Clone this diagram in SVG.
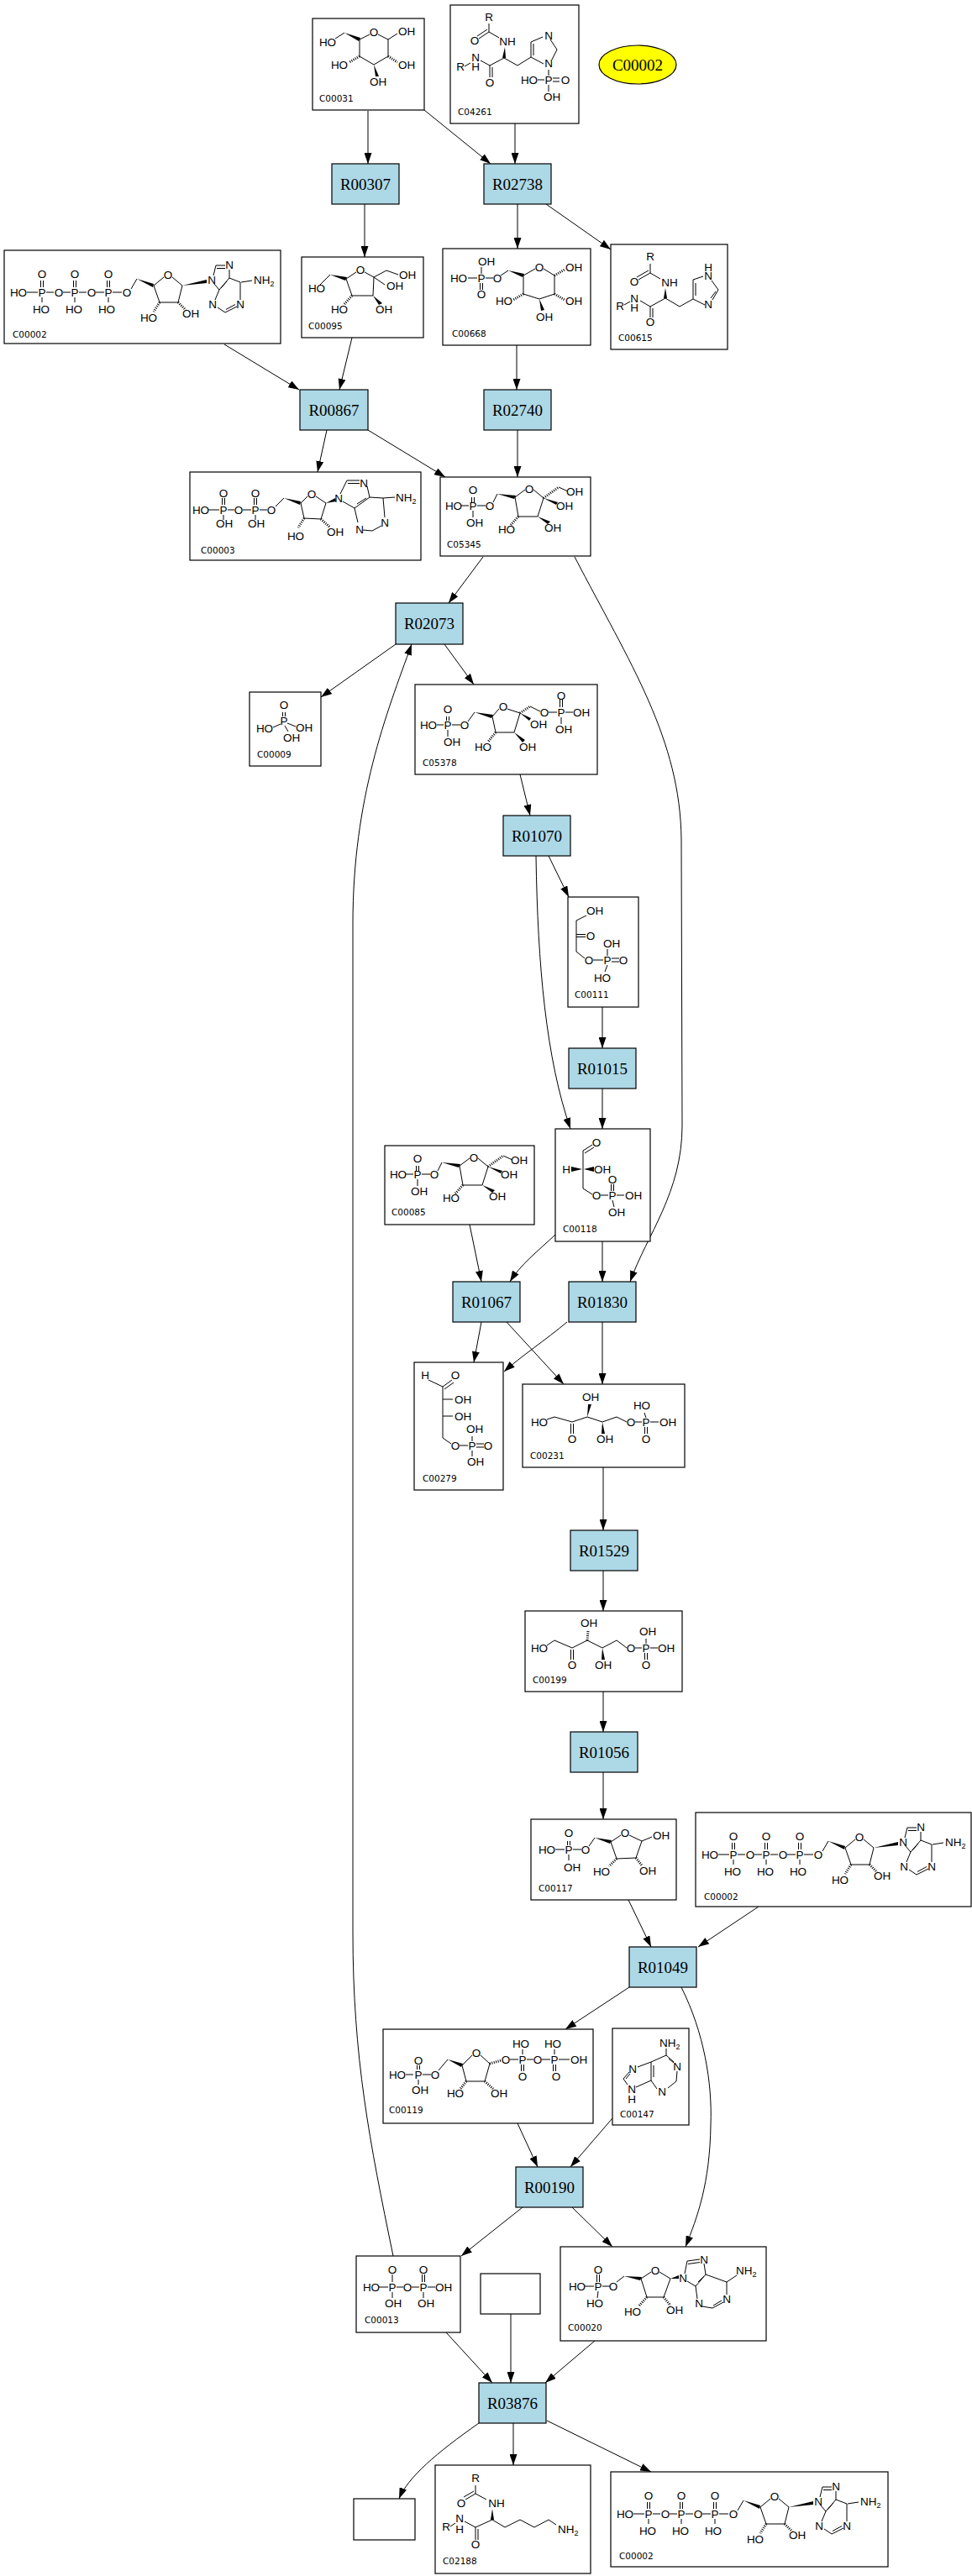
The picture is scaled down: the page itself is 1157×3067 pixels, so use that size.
<svg xmlns="http://www.w3.org/2000/svg" width="1157" height="3067" viewBox="0 0 1157 3067">
<style>
.cb{fill:#fff;stroke:#000;stroke-width:1.2}
.rb{fill:#add8e6;stroke:#000;stroke-width:1.2}
.rt{font-family:"Liberation Serif",serif;font-size:19px;text-anchor:middle}
.a{font-family:"Liberation Sans",Arial,sans-serif;font-size:13.5px;text-anchor:middle}
.s{text-anchor:start}
.id{font-family:"DejaVu Sans",sans-serif;font-size:10.5px}
.b{stroke:#000;stroke-width:1;fill:none}
.h{stroke:#000;stroke-width:3;stroke-dasharray:1 1.5;fill:none}
.e{stroke:#000;stroke-width:1;fill:none;marker-end:url(#ah)}
</style>
<defs>
<marker id="ah" viewBox="0 0 13 9" refX="13" refY="4.5" markerWidth="13" markerHeight="9" markerUnits="userSpaceOnUse" orient="auto"><path d="M0,0 L13,4.5 L0,9 z" fill="#000"/></marker>
</defs>
<rect width="1157" height="3067" fill="#fff"/>

<g id="edges">
<path class="e" d="M438,132 L438,195"/>
<path class="e" d="M505,131 L584,195"/>
<path class="e" d="M613,147 L613,195"/>
<path class="e" d="M434,243 L434,306"/>
<path class="e" d="M616,243 L616,296"/>
<path class="e" d="M650,243 L727,297"/>
<path class="e" d="M267,410 L356,464"/>
<path class="e" d="M419,402 L404,464"/>
<path class="e" d="M615,411 L615,464"/>
<path class="e" d="M389,512 L378,562"/>
<path class="e" d="M438,512 L530,568"/>
<path class="e" d="M616,512 L616,568"/>
<path class="e" d="M575,663 L534,718"/>
<path class="e" d="M684,663 C750,790 810,880 811,1000 L812,1340 C812,1420 770,1470 750,1526"/>
<path class="e" d="M471,767 L382,830"/>
<path class="e" d="M529,767 L564,815"/>
<path class="e" d="M468,2686 C440,2550 420,2450 420,2300 L420,1100 C420,950 460,850 490,767"/>
<path class="e" d="M619,922 L631,971"/>
<path class="e" d="M653,1019 L677,1068"/>
<path class="e" d="M638,1019 C640,1150 650,1260 679,1344"/>
<path class="e" d="M717,1199 L717,1248"/>
<path class="e" d="M717,1296 L717,1344"/>
<path class="e" d="M559,1458 L573,1526"/>
<path class="e" d="M661,1470 C640,1490 620,1505 607,1526"/>
<path class="e" d="M717,1478 L717,1526"/>
<path class="e" d="M573,1574 L564,1622"/>
<path class="e" d="M603,1574 L671,1648"/>
<path class="e" d="M675,1574 C650,1595 620,1615 600,1633"/>
<path class="e" d="M717,1574 L717,1648"/>
<path class="e" d="M718,1747 L718,1822"/>
<path class="e" d="M718,1870 L718,1918"/>
<path class="e" d="M718,2014 L718,2062"/>
<path class="e" d="M718,2110 L718,2166"/>
<path class="e" d="M748,2262 L775,2318"/>
<path class="e" d="M903,2270 L831,2318"/>
<path class="e" d="M749,2366 L673,2416"/>
<path class="e" d="M811,2366 C838,2420 848,2480 846,2530 C845,2600 830,2640 816,2675"/>
<path class="e" d="M616,2528 L640,2580"/>
<path class="e" d="M729,2522 L679,2580"/>
<path class="e" d="M622,2628 L549,2686"/>
<path class="e" d="M681,2628 L729,2675"/>
<path class="e" d="M531,2777 L586,2837"/>
<path class="e" d="M608,2755 L608,2837"/>
<path class="e" d="M708,2787 L649,2837"/>
<path class="e" d="M570,2885 C520,2920 485,2950 475,2975"/>
<path class="e" d="M611,2885 L611,2935"/>
<path class="e" d="M651,2882 L775,2943"/>
</g>

<g id="R00307"><rect class="rb" x="395" y="195" width="80" height="48"/><text class="rt" x="435" y="225.5">R00307</text></g>
<g id="R02738"><rect class="rb" x="576" y="195" width="80" height="48"/><text class="rt" x="616" y="225.5">R02738</text></g>
<g id="R00867"><rect class="rb" x="357" y="464" width="81" height="48"/><text class="rt" x="397.5" y="494.5">R00867</text></g>
<g id="R02740"><rect class="rb" x="576" y="464" width="80" height="48"/><text class="rt" x="616" y="494.5">R02740</text></g>
<g id="R02073"><rect class="rb" x="471" y="718" width="80" height="49"/><text class="rt" x="511" y="749">R02073</text></g>
<g id="R01070"><rect class="rb" x="599" y="971" width="80" height="48"/><text class="rt" x="639" y="1001.5">R01070</text></g>
<g id="R01015"><rect class="rb" x="677" y="1248" width="80" height="48"/><text class="rt" x="717" y="1278.5">R01015</text></g>
<g id="R01067"><rect class="rb" x="539" y="1526" width="80" height="48"/><text class="rt" x="579" y="1556.5">R01067</text></g>
<g id="R01830"><rect class="rb" x="677" y="1526" width="80" height="48"/><text class="rt" x="717" y="1556.5">R01830</text></g>
<g id="R01529"><rect class="rb" x="679" y="1822" width="80" height="48"/><text class="rt" x="719" y="1852.5">R01529</text></g>
<g id="R01056"><rect class="rb" x="679" y="2062" width="80" height="48"/><text class="rt" x="719" y="2092.5">R01056</text></g>
<g id="R01049"><rect class="rb" x="749" y="2318" width="80" height="48"/><text class="rt" x="789" y="2348.5">R01049</text></g>
<g id="R00190"><rect class="rb" x="614" y="2580" width="80" height="48"/><text class="rt" x="654" y="2610.5">R00190</text></g>
<g id="R03876"><rect class="rb" x="570" y="2837" width="80" height="48"/><text class="rt" x="610" y="2867.5">R03876</text></g>

<g id="C00002_top"><ellipse cx="759" cy="77" rx="46" ry="23" fill="#ffff00" stroke="#000" stroke-width="1.2"/><text class="rt" x="759" y="83.5">C00002</text></g>

<g id="empty1"><rect class="cb" x="572" y="2707" width="71" height="48"/></g>
<g id="empty2"><rect class="cb" x="421" y="2975" width="73" height="49"/></g>

<g id="C00031">
<rect class="cb" x="372" y="22" width="133" height="109"/>
<path class="b" d="M399,46 L410,39 M428,47 L440,41 M450,41 L462,47 L462,67 L445,77 L428,67 L428,47 M462,47 L473,40"/>
<polygon points="410,39 429,45 427,49"/>
<polygon points="445,77 447,91 451,91"/>
<path class="h" d="M462,67 L473,74 M428,67 L416,74"/>
<text class="a" x="390" y="55">HO</text><text class="a" x="445" y="43">O</text><text class="a" x="484" y="42">OH</text>
<text class="a" x="404" y="82">HO</text><text class="a" x="484" y="82">OH</text><text class="a" x="450" y="102">OH</text>
<text class="id" x="380" y="121">C00031</text>
</g>

<g id="C04261">
<rect class="cb" x="536" y="6" width="153" height="141"/>
<g transform="translate(-3,0)">
<path class="b" d="M585,28 L585,38 L573,46 M583,35 L571,43 M585,38 L597,45 M603,69 L586,78 L586,92 M589,80 L589,92 M586,78 L575,72 M556,79 L563,75 M603,69 L619,78 L635,68 L635,50 L649,44 M658,47 L666,59 L660,71 M650,76 L635,68 M638,52 L638,66 M656,83 L656,90 M643,95 L651,95 M661,93 L669,93 M661,97 L669,97 M656,101 L656,109"/>
<polygon points="604,56 601,69 605,69"/>
<text class="a" x="585" y="25">R</text><text class="a" x="568" y="53">O</text><text class="a" x="607" y="54">NH</text>
<text class="a" x="656" y="47">N</text><text class="a" x="656" y="80">N</text>
<text class="a" x="569" y="73">N</text><text class="a" x="569" y="84">H</text><text class="a" x="551" y="84">R</text>
<text class="a" x="586" y="103">O</text><text class="a" x="633" y="100">HO</text><text class="a" x="656" y="100">P</text><text class="a" x="676" y="100">O</text>
<text class="a" x="660" y="120">OH</text>
</g>
<text class="id" x="545" y="137">C04261</text>
</g>

<g id="C00002_a">
<rect class="cb" x="5" y="298" width="329" height="111"/>
<g transform="translate(5,298)">
<path class="b" d="M43.5,36 V44 M46.5,36 V44 M82.5,36 V44 M85.5,36 V44 M122.5,36 V44 M125.5,36 V44 M27,50 H40 M50,50 H59 M70,50 H79 M89,50 H98 M109,50 H119 M129,50 H140 M45,56 V62 M84,56 V62 M124,56 V62 M151,46 L158,34 M178,42 L190,32 M200,32 L212,42 L207,62 L185,62 L178,42 M249,30 L252,18 H263 M253,21.5 H263 M268,23 V33 L256,47 L250,40 M256,47 L251,59 M254,68 L263,74 L277,67 M281,59 V38 L268,33 M282,38 L295,36 M265,37 L258,45 M264,70.5 L275,64.5"/>
<polygon points="158,34 178,40 177,44"/><polygon points="212,42 241,35 241,39"/>
<path class="h" d="M185,62 L178,73 M207,62 L216,71"/>
<text class="a" x="45" y="33">O</text><text class="a" x="84" y="33">O</text><text class="a" x="124" y="33">O</text>
<text class="a" x="17" y="55">HO</text><text class="a" x="45" y="55">P</text><text class="a" x="65" y="55">O</text><text class="a" x="84" y="55">P</text><text class="a" x="104" y="55">O</text><text class="a" x="124" y="55">P</text><text class="a" x="146" y="55">O</text>
<text class="a" x="44" y="75">HO</text><text class="a" x="83" y="75">HO</text><text class="a" x="122" y="75">HO</text>
<text class="a" x="195" y="34">O</text><text class="a" x="172" y="85">HO</text><text class="a" x="222" y="80">OH</text>
<text class="a" x="247" y="40">N</text><text class="a" x="268" y="22">N</text><text class="a" x="248" y="69">N</text><text class="a" x="281" y="69">N</text>
<text class="a s" x="297" y="40">NH<tspan font-size="9" dy="3">2</tspan></text>
<text class="id" x="10" y="104">C00002</text>
</g>
</g>

<g id="C00095">
<rect class="cb" x="359" y="306" width="145" height="96"/>
<path class="b" d="M381,339 L393,327 M412,332 L424,324 M434,324 L445,330 L444,352 L419,352 L412,332 M445,330 L460,322 L474,327 M445,330 L458,339"/>
<polygon points="393,327 413,330 411,334"/><polygon points="444,352 451,363 455,361"/>
<path class="h" d="M419,352 L410,362"/>
<text class="a" x="377" y="348">HO</text><text class="a" x="429" y="326">O</text><text class="a" x="485" y="332">OH</text>
<text class="a" x="470" y="345">OH</text><text class="a" x="457" y="373">OH</text><text class="a" x="404" y="373">HO</text>
<text class="id" x="367" y="392">C00095</text>
</g>

<g id="C00668">
<rect class="cb" x="527" y="296" width="176" height="115"/>
<path class="b" d="M573,318 V326 M557,331 H568 M578,331 H587 M571.5,337 V345 M574.5,337 V345 M596,328 L605,322 M623,328 L637,320 M647,320 L660,328 L660,350 L642,356 L623,350 L623,328"/>
<polygon points="605,322 624,326 622,330"/><polygon points="642,356 644,370 648,369"/>
<path class="h" d="M660,328 L672,321 M660,350 L672,357 M623,350 L611,357"/>
<text class="a" x="579" y="316">OH</text><text class="a" x="546" y="336">HO</text><text class="a" x="573" y="336">P</text><text class="a" x="592" y="336">O</text>
<text class="a" x="573" y="355">O</text><text class="a" x="642" y="323">O</text><text class="a" x="683" y="323">OH</text>
<text class="a" x="600" y="363">HO</text><text class="a" x="683" y="363">OH</text><text class="a" x="648" y="382">OH</text>
<text class="id" x="538" y="401">C00668</text>
</g>

<g id="C00615">
<rect class="cb" x="727" y="291" width="139" height="125"/>
<path class="b" d="M774,314 L774,325 L760,333 M772,322 L758,330 M774,325 L786,332 M792,355 L774,365 L774,378 M777,367 L777,378 M774,365 L762,358 M743,363 L750,359 M792,355 L809,365 L825,356 L825,333 L837,329 M847,334 L855,345 L848,357 M839,363 L825,356 M828,352 L828,337 M852,347 L846,355"/>
<polygon points="792,343 790,355 794,355"/>
<text class="a" x="774" y="310">R</text><text class="a" x="755" y="340">O</text><text class="a" x="797" y="341">NH</text>
<text class="a" x="755" y="360">N</text><text class="a" x="755" y="371">H</text><text class="a" x="738" y="369">R</text>
<text class="a" x="774" y="388">O</text><text class="a" x="843" y="323">H</text><text class="a" x="843" y="333">N</text><text class="a" x="843" y="367">N</text>
<text class="id" x="736" y="406">C00615</text>
</g>

<g id="C00003">
<rect class="cb" x="226" y="562" width="275" height="105"/>
<path class="b" d="M264.5,593 V601 M267.5,593 V601 M302.5,593 V601 M305.5,593 V601 M248,607 H261 M271,607 H279 M289,607 H299 M309,607 H318 M266,613 V619 M304,613 V619 M328,603 L338,593 M358,599 L366,591 M376,591 L388,599 L382,618 L362,617 L358,599 M405,588 L413,572 H428 M414,575.5 H428 M437,579 L440,592 L422,605 L408,597 M422,605 L426,622 M432,631 L443,632 L454,626 M458,616 L456,593 L440,592 M456,593 L470,592 M425,600 L436,593"/>
<polygon points="338,593 358,597 357,601"/><polygon points="388,599 399,593 400,597"/>
<path class="h" d="M362,617 L355,628 M382,618 L393,628"/>
<text class="a" x="266" y="592">O</text><text class="a" x="304" y="592">O</text>
<text class="a" x="239" y="612">HO</text><text class="a" x="266" y="612">P</text><text class="a" x="284" y="612">O</text><text class="a" x="304" y="612">P</text><text class="a" x="323" y="612">O</text>
<text class="a" x="267" y="628">OH</text><text class="a" x="305" y="628">OH</text>
<text class="a" x="371" y="593">O</text><text class="a" x="352" y="643">HO</text><text class="a" x="399" y="638">OH</text>
<text class="a" x="403" y="598">N</text><text class="a" x="433" y="580">N</text><text class="a" x="428" y="635">N</text><text class="a" x="458" y="627">N</text>
<text class="a s" x="471" y="597">NH<tspan font-size="9" dy="3">2</tspan></text>
<text class="id" x="239" y="659">C00003</text>
</g>

<g id="C05345">
<rect class="cb" x="524" y="568" width="179" height="94"/>
<path class="b" d="M561.5,592 V598 M564.5,592 V598 M549,602 H558 M568,602 H578 M563,608 V616 M587,598 L592,588 M613,592 L625,583 M635,583 L647,593 L640,615 L617,615 L613,592 M665,580 L676,585"/>
<polygon points="592,588 614,590 612,594"/><polygon points="647,593 662,601 664,598"/><polygon points="640,615 652,624 655,621"/>
<path class="h" d="M647,593 L665,580 M617,615 L608,625"/>
<text class="a" x="563" y="588">O</text><text class="a" x="540" y="607">HO</text><text class="a" x="563" y="607">P</text><text class="a" x="583" y="607">O</text><text class="a" x="565" y="627">OH</text>
<text class="a" x="630" y="587">O</text><text class="a" x="684" y="590">OH</text><text class="a" x="672" y="607">OH</text>
<text class="a" x="603" y="635">HO</text><text class="a" x="658" y="633">OH</text>
<text class="id" x="532" y="652">C05345</text>
</g>

<g id="C00009">
<rect class="cb" x="297" y="824" width="85" height="88"/>
<path class="b" d="M336.5,848 V853 M339.5,848 V853 M334,862 L325,866 M342,861 L352,865 M339,864 L343,871"/>
<text class="a" x="338" y="844">O</text><text class="a" x="338" y="863">P</text><text class="a" x="315" y="872">HO</text><text class="a" x="362" y="871">OH</text><text class="a" x="347" y="883">OH</text>
<text class="id" x="306" y="902">C00009</text>
</g>

<g id="C05378">
<rect class="cb" x="494" y="815" width="217" height="107"/>
<path class="b" d="M531.5,853 V858 M534.5,853 V858 M520,863 H528 M538,863 H548 M533,869 V877 M557,859 L565,848 M586,853 L594,844 M604,844 L619,849 L612,872 L590,872 L586,853 M631,841 L643,847 M653,848 H663 M673,848 H682 M666.5,833 V842 M669.5,833 V842 M668,854 V862"/>
<polygon points="565,848 587,851 585,855"/><polygon points="619,849 630,858 632,855"/><polygon points="612,872 622,884 625,881"/>
<path class="h" d="M619,849 L631,841 M590,872 L581,883"/>
<text class="a" x="533" y="849">O</text><text class="a" x="510" y="868">HO</text><text class="a" x="533" y="868">P</text><text class="a" x="553" y="868">O</text><text class="a" x="538" y="888">OH</text>
<text class="a" x="599" y="846">O</text><text class="a" x="641" y="867">OH</text>
<text class="a" x="648" y="853">O</text><text class="a" x="668" y="853">P</text><text class="a" x="692" y="853">OH</text><text class="a" x="668" y="833">O</text><text class="a" x="671" y="873">OH</text>
<text class="a" x="575" y="894">HO</text><text class="a" x="628" y="894">OH</text>
<text class="id" x="503" y="912">C05378</text>
</g>

<g id="C00111">
<rect class="cb" x="676" y="1068" width="84" height="131"/>
<path class="b" d="M698,1090 L686,1096 L686,1133 L696,1141 M686,1112.5 H697 M686,1115.5 H697 M706,1143 H718 M728,1141 H737 M728,1145 H737 M723,1138 V1130 M723,1149 L720,1157"/>
<text class="a" x="708" y="1089">OH</text><text class="a" x="703" y="1119">O</text><text class="a" x="728" y="1128">OH</text>
<text class="a" x="701" y="1148">O</text><text class="a" x="723" y="1148">P</text><text class="a" x="742" y="1148">O</text><text class="a" x="717" y="1169">HO</text>
<text class="id" x="684" y="1188">C00111</text>
</g>

<g id="C00118">
<rect class="cb" x="661" y="1344" width="113" height="134"/>
<path class="b" d="M694,1370 L705,1363 M696,1373 L707,1366 M694,1370 L694,1415 L705,1422 M715,1423 H724 M734,1423 H743 M727.5,1418 V1410 M730.5,1418 V1410 M729,1429 L731,1437"/>
<polygon points="680,1389 680,1395 693,1392"/><polygon points="707,1389 707,1395 695,1392"/>
<text class="a" x="710" y="1365">O</text><text class="a" x="674" y="1397">H</text><text class="a" x="717" y="1397">OH</text>
<text class="a" x="710" y="1428">O</text><text class="a" x="729" y="1428">P</text><text class="a" x="754" y="1428">OH</text><text class="a" x="729" y="1409">O</text><text class="a" x="734" y="1448">OH</text>
<text class="id" x="670" y="1467">C00118</text>
</g>

<g id="C00085">
<rect class="cb" x="458" y="1364" width="178" height="94"/>
<g transform="translate(-66,796)">
<path class="b" d="M561.5,592 V598 M564.5,592 V598 M549,602 H558 M568,602 H578 M563,608 V616 M587,598 L592,588 M613,592 L625,583 M635,583 L647,593 L640,615 L617,615 L613,592 M665,580 L676,585"/>
<polygon points="592,588 614,590 612,594"/><polygon points="647,593 662,601 664,598"/><polygon points="640,615 652,624 655,621"/>
<path class="h" d="M647,593 L665,580 M617,615 L608,625"/>
<text class="a" x="563" y="588">O</text><text class="a" x="540" y="607">HO</text><text class="a" x="563" y="607">P</text><text class="a" x="583" y="607">O</text><text class="a" x="565" y="627">OH</text>
<text class="a" x="630" y="587">O</text><text class="a" x="684" y="590">OH</text><text class="a" x="672" y="607">OH</text>
<text class="a" x="603" y="635">HO</text><text class="a" x="658" y="633">OH</text>
</g>
<text class="id" x="466" y="1447">C00085</text>
</g>

<g id="C00279">
<rect class="cb" x="493" y="1622" width="106" height="152"/>
<path class="b" d="M510,1643 L527,1651 L538,1643 M529,1654 L540,1646 M527,1651 L527,1712 L537,1719 M527,1666 H539 M527,1686 H539 M547,1721 H557 M567,1719 H576 M567,1723 H576 M562,1716 V1710 M562,1727 V1734"/>
<text class="a" x="506" y="1642">H</text><text class="a" x="542" y="1642">O</text>
<text class="a" x="551" y="1671">OH</text><text class="a" x="551" y="1691">OH</text><text class="a" x="565" y="1706">OH</text>
<text class="a" x="542" y="1726">O</text><text class="a" x="562" y="1726">P</text><text class="a" x="581" y="1726">O</text><text class="a" x="566" y="1745">OH</text>
<text class="id" x="503" y="1764">C00279</text>
</g>

<g id="C00231">
<rect class="cb" x="622" y="1648" width="193" height="99"/>
<path class="b" d="M651,1690 L660,1687 L681,1693 L699,1687 L717,1693 L734,1687 L746,1693 M679.5,1695 V1707 M682.5,1695 V1707 M756,1693 H764 M774,1693 H784 M769,1688 L767,1682 M767.5,1699 V1707 M770.5,1699 V1707"/>
<polygon points="699,1687 700,1672 704,1672"/><polygon points="717,1693 716,1707 720,1707"/>
<text class="a" x="642" y="1698">HO</text><text class="a" x="681" y="1718">O</text><text class="a" x="703" y="1668">OH</text><text class="a" x="720" y="1718">OH</text>
<text class="a" x="751" y="1698">O</text><text class="a" x="769" y="1698">P</text><text class="a" x="795" y="1698">OH</text><text class="a" x="764" y="1678">HO</text><text class="a" x="769" y="1718">O</text>
<text class="id" x="631" y="1737">C00231</text>
</g>

<g id="C00199">
<rect class="cb" x="625" y="1918" width="187" height="96"/>
<path class="b" d="M651,1959 L660,1953 L681,1962 L699,1953 L717,1962 L734,1953 L746,1962 M679.5,1964 V1976 M682.5,1964 V1976 M756,1962 H764 M774,1962 H783 M769,1957 V1951 M767.5,1968 V1976 M770.5,1968 V1976"/>
<path class="h" d="M699,1953 L700,1942"/>
<polygon points="717,1962 716,1976 720,1976"/>
<text class="a" x="642" y="1967">HO</text><text class="a" x="681" y="1987">O</text><text class="a" x="701" y="1937">OH</text><text class="a" x="718" y="1987">OH</text>
<text class="a" x="751" y="1967">O</text><text class="a" x="769" y="1967">P</text><text class="a" x="793" y="1967">OH</text><text class="a" x="771" y="1947">OH</text><text class="a" x="769" y="1987">O</text>
<text class="id" x="634" y="2004">C00199</text>
</g>

<g id="C00117">
<rect class="cb" x="632" y="2166" width="173" height="96"/>
<path class="b" d="M675.5,2192 V2197 M678.5,2192 V2197 M661,2202 H672 M682,2202 H692 M677,2208 V2215 M701,2198 L708,2188 M727,2193 L739,2185 M749,2185 L764,2192 L757,2212 L734,2213 L727,2193 M764,2192 L776,2187"/>
<polygon points="708,2188 728,2191 726,2195"/>
<path class="h" d="M734,2213 L725,2222 M757,2212 L764,2221"/>
<text class="a" x="677" y="2187">O</text><text class="a" x="651" y="2207">HO</text><text class="a" x="677" y="2207">P</text><text class="a" x="697" y="2207">O</text><text class="a" x="681" y="2228">OH</text>
<text class="a" x="744" y="2187">O</text><text class="a" x="787" y="2190">OH</text><text class="a" x="716" y="2233">HO</text><text class="a" x="771" y="2232">OH</text>
<text class="id" x="641" y="2252">C00117</text>
</g>

<g id="C00002_b">
<rect class="cb" x="828" y="2158" width="328" height="112"/>
<g transform="translate(828,2158)">
<path class="b" d="M43.5,36 V44 M46.5,36 V44 M82.5,36 V44 M85.5,36 V44 M122.5,36 V44 M125.5,36 V44 M27,50 H40 M50,50 H59 M70,50 H79 M89,50 H98 M109,50 H119 M129,50 H140 M45,56 V62 M84,56 V62 M124,56 V62 M151,46 L158,34 M178,42 L190,32 M200,32 L212,42 L207,62 L185,62 L178,42 M249,30 L252,18 H263 M253,21.5 H263 M268,23 V33 L256,47 L250,40 M256,47 L251,59 M254,68 L263,74 L277,67 M281,59 V38 L268,33 M282,38 L295,36 M265,37 L258,45 M264,70.5 L275,64.5"/>
<polygon points="158,34 178,40 177,44"/><polygon points="212,42 241,35 241,39"/>
<path class="h" d="M185,62 L178,73 M207,62 L216,71"/>
<text class="a" x="45" y="33">O</text><text class="a" x="84" y="33">O</text><text class="a" x="124" y="33">O</text>
<text class="a" x="17" y="55">HO</text><text class="a" x="45" y="55">P</text><text class="a" x="65" y="55">O</text><text class="a" x="84" y="55">P</text><text class="a" x="104" y="55">O</text><text class="a" x="124" y="55">P</text><text class="a" x="146" y="55">O</text>
<text class="a" x="44" y="75">HO</text><text class="a" x="83" y="75">HO</text><text class="a" x="122" y="75">HO</text>
<text class="a" x="195" y="34">O</text><text class="a" x="172" y="85">HO</text><text class="a" x="222" y="80">OH</text>
<text class="a" x="247" y="40">N</text><text class="a" x="268" y="22">N</text><text class="a" x="248" y="69">N</text><text class="a" x="281" y="69">N</text>
<text class="a s" x="297" y="40">NH<tspan font-size="9" dy="3">2</tspan></text>
<text class="id" x="10" y="104">C00002</text>
</g>
</g>

<g id="C00119">
<rect class="cb" x="456" y="2416" width="250" height="112"/>
<path class="b" d="M496.5,2459 V2464 M499.5,2459 V2464 M483,2470 H492 M503,2470 H513 M498,2476 V2482 M522,2465 L533,2452 M550,2459 L562,2447 M572,2447 L583,2457 L577,2478 L555,2478 L550,2459 M607,2452 H617 M627,2452 H635 M645,2452 H655 M665,2452 H678 M622,2440 V2446 M660,2440 V2446 M620.5,2458 V2466 M623.5,2458 V2466 M658.5,2458 V2466 M661.5,2458 V2466"/>
<polygon points="533,2452 551,2457 549,2461"/>
<path class="h" d="M583,2457 L597,2453 M555,2478 L548,2487 M577,2478 L587,2487"/>
<text class="a" x="498" y="2458">O</text><text class="a" x="473" y="2475">HO</text><text class="a" x="498" y="2475">P</text><text class="a" x="518" y="2475">O</text><text class="a" x="500" y="2493">OH</text>
<text class="a" x="567" y="2449">O</text><text class="a" x="602" y="2457">O</text><text class="a" x="622" y="2457">P</text><text class="a" x="640" y="2457">O</text><text class="a" x="660" y="2457">P</text><text class="a" x="689" y="2457">OH</text>
<text class="a" x="620" y="2438">HO</text><text class="a" x="658" y="2438">HO</text><text class="a" x="622" y="2477">O</text><text class="a" x="662" y="2477">O</text>
<text class="a" x="542" y="2497">HO</text><text class="a" x="594" y="2497">OH</text>
<text class="id" x="463" y="2516">C00119</text>
</g>

<g id="C00147">
<rect class="cb" x="729" y="2415" width="91" height="115"/>
<path class="b" d="M793,2439 L793,2447 L802,2455 M806,2466 L805,2478 L795,2486 M782,2487 L775,2477 L775,2455 L793,2447 M775,2455 L759,2461 M749,2467 L742,2475 L747,2482 M757,2485 L775,2477 M778,2473 L778,2459 M796,2451 L802,2456 M745,2475 L750,2469"/>
<text class="a s" x="785" y="2437">NH<tspan font-size="9" dy="3">2</tspan></text>
<text class="a" x="806" y="2465">N</text><text class="a" x="788" y="2495">N</text><text class="a" x="753" y="2468">N</text><text class="a" x="752" y="2492">N</text><text class="a" x="752" y="2504">H</text>
<text class="id" x="738" y="2521">C00147</text>
</g>

<g id="C00013">
<rect class="cb" x="424" y="2686" width="124" height="91"/>
<path class="b" d="M467,2708 V2717 M502.5,2708 V2717 M505.5,2708 V2717 M451,2723 H462 M472,2723 H480 M490,2723 H499 M509,2723 H518 M467,2729 V2736 M504,2729 V2736"/>
<text class="a" x="467" y="2707">O</text><text class="a" x="504" y="2707">O</text>
<text class="a" x="442" y="2728">HO</text><text class="a" x="467" y="2728">P</text><text class="a" x="485" y="2728">O</text><text class="a" x="504" y="2728">P</text><text class="a" x="528" y="2728">OH</text>
<text class="a" x="468" y="2747">OH</text><text class="a" x="507" y="2747">OH</text>
<text class="id" x="434" y="2766">C00013</text>
</g>

<g id="C00020">
<rect class="cb" x="667" y="2675" width="245" height="112"/>
<path class="b" d="M710.5,2708 V2717 M713.5,2708 V2717 M696,2722 H707 M717,2722 H726 M712,2728 L711,2736 M734,2717 L743,2710 M763,2713 L775,2705 M785,2705 L798,2713 L790,2735 L770,2735 L763,2713 M815,2707 L818,2692 L833,2690 M819,2695.5 L833,2693.5 M838,2695 L840,2708 L828,2722 L818,2716 M828,2722 L830,2737 M836,2746 L848,2748 L861,2741 M865,2732 L865,2717 L840,2708 M865,2717 L877,2709 M831,2717 L838,2710 M849,2745 L859,2739"/>
<polygon points="743,2710 764,2711 762,2715"/><polygon points="798,2713 808,2709 808,2713"/>
<path class="h" d="M770,2735 L760,2746 M790,2735 L798,2745"/>
<text class="a" x="712" y="2707">O</text><text class="a" x="687" y="2727">HO</text><text class="a" x="712" y="2727">P</text><text class="a" x="730" y="2727">O</text><text class="a" x="708" y="2747">HO</text>
<text class="a" x="780" y="2708">O</text><text class="a" x="813" y="2717">N</text><text class="a" x="838" y="2695">N</text>
<text class="a" x="753" y="2757">HO</text><text class="a" x="803" y="2755">OH</text>
<text class="a" x="832" y="2747">N</text><text class="a" x="865" y="2742">N</text>
<text class="a s" x="876" y="2708">NH<tspan font-size="9" dy="3">2</tspan></text>
<text class="id" x="676" y="2775">C00020</text>
</g>

<g id="C02188">
<rect class="cb" x="518" y="2935" width="185" height="129"/>
<path class="b" d="M566,2959 L566,2969 L554,2976 M564,2966 L552,2973 M566,2969 L579,2976 M586,3000 L566,3009 L566,3024 M569,3011 L569,3024 M566,3009 L553,3002 M536,3008 L542,3004 M586,3000 L601,3009 L619,3000 L636,3009 L653,3000 L662,3006"/>
<polygon points="586,2987 584,3000 588,3000"/>
<text class="a" x="566" y="2955">R</text><text class="a" x="549" y="2985">O</text><text class="a" x="591" y="2985">NH</text>
<text class="a" x="547" y="3003">N</text><text class="a" x="547" y="3016">H</text><text class="a" x="531" y="3013">R</text>
<text class="a" x="566" y="3034">O</text>
<text class="a s" x="664" y="3016">NH<tspan font-size="9" dy="3">2</tspan></text>
<text class="id" x="527" y="3053">C02188</text>
</g>

<g id="C00002_c">
<rect class="cb" x="727" y="2943" width="330" height="113"/>
<g transform="translate(727,2943)">
<path class="b" d="M43.5,36 V44 M46.5,36 V44 M82.5,36 V44 M85.5,36 V44 M122.5,36 V44 M125.5,36 V44 M27,50 H40 M50,50 H59 M70,50 H79 M89,50 H98 M109,50 H119 M129,50 H140 M45,56 V62 M84,56 V62 M124,56 V62 M151,46 L158,34 M178,42 L190,32 M200,32 L212,42 L207,62 L185,62 L178,42 M249,30 L252,18 H263 M253,21.5 H263 M268,23 V33 L256,47 L250,40 M256,47 L251,59 M254,68 L263,74 L277,67 M281,59 V38 L268,33 M282,38 L295,36 M265,37 L258,45 M264,70.5 L275,64.5"/>
<polygon points="158,34 178,40 177,44"/><polygon points="212,42 241,35 241,39"/>
<path class="h" d="M185,62 L178,73 M207,62 L216,71"/>
<text class="a" x="45" y="33">O</text><text class="a" x="84" y="33">O</text><text class="a" x="124" y="33">O</text>
<text class="a" x="17" y="55">HO</text><text class="a" x="45" y="55">P</text><text class="a" x="65" y="55">O</text><text class="a" x="84" y="55">P</text><text class="a" x="104" y="55">O</text><text class="a" x="124" y="55">P</text><text class="a" x="146" y="55">O</text>
<text class="a" x="44" y="75">HO</text><text class="a" x="83" y="75">HO</text><text class="a" x="122" y="75">HO</text>
<text class="a" x="195" y="34">O</text><text class="a" x="172" y="85">HO</text><text class="a" x="222" y="80">OH</text>
<text class="a" x="247" y="40">N</text><text class="a" x="268" y="22">N</text><text class="a" x="248" y="69">N</text><text class="a" x="281" y="69">N</text>
<text class="a s" x="297" y="40">NH<tspan font-size="9" dy="3">2</tspan></text>
<text class="id" x="10" y="104">C00002</text>
</g>
</g>
</svg>
